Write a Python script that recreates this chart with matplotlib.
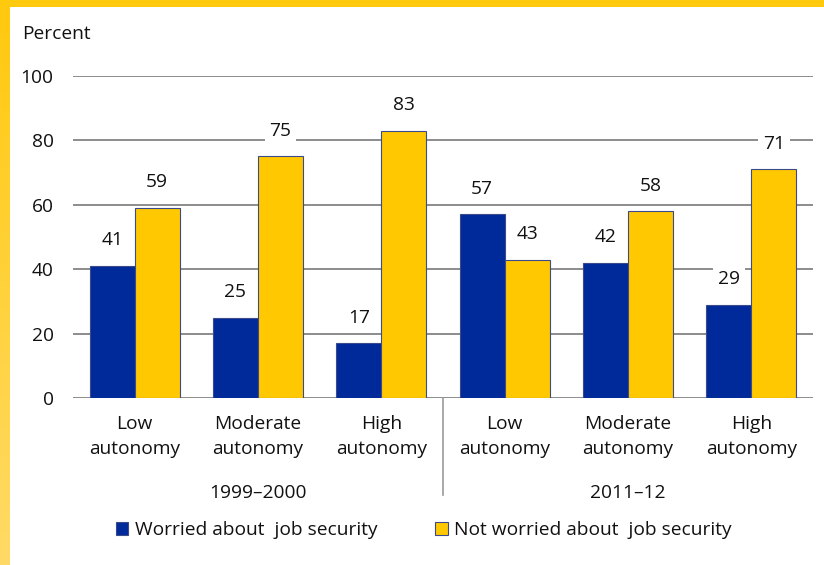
import matplotlib
matplotlib.use("Agg")
import matplotlib.pyplot as plt
import numpy as np
from matplotlib.patches import Rectangle
from matplotlib.colors import LinearSegmentedColormap

plt.rcParams['font.family'] = ['Open Sans', 'DejaVu Sans']

categories = ["Low\nautonomy", "Moderate\nautonomy", "High\nautonomy",
              "Low\nautonomy", "Moderate\nautonomy", "High\nautonomy"]
periods = ["1999–2000", "2011–12"]
worried = [41, 25, 17, 57, 42, 29]
not_worried = [59, 75, 83, 43, 58, 71]
series_names = ["Worried about  job security", "Not worried about  job security"]
yticks = [0, 20, 40, 60, 80, 100]

BLUE = "#00299A"
YELLOW = "#FFC800"
EDGE = "#3a4a8a"
GRID = "#8c8c8c"
FS = 13.8

W, H = 824, 565
fig = plt.figure(figsize=(W/100, H/100), dpi=100)

# border decoration
bg = fig.add_axes([0, 0, 1, 1], zorder=-10)
bg.axis('off')
grad = np.linspace(0, 1, 256).reshape(-1, 1)
cmap = LinearSegmentedColormap.from_list("g", ["#FFC90E", "#FFDA66"])
bg.imshow(grad, extent=[0, 10, H, 0], cmap=cmap, aspect='auto')
bg.add_patch(Rectangle((0, 0), W, 7, color="#FFC90E", lw=0))
bg.set_xlim(0, W); bg.set_ylim(H, 0)

ax = fig.add_axes([73/W, 1-398/H, (813-73)/W, (398-76)/H])
x = np.arange(len(categories))
bw = 0.365
b1 = ax.bar(x - bw/2, worried, bw, color=BLUE, edgecolor=EDGE, lw=0.8, zorder=3, label=series_names[0])
b2 = ax.bar(x + bw/2, not_worried, bw, color=YELLOW, edgecolor=EDGE, lw=0.8, zorder=3, label=series_names[1])

for bars, vals in ((b1, worried), (b2, not_worried)):
    for r, v in zip(bars, vals):
        ax.annotate(str(v), (r.get_x() + r.get_width()/2, v), xytext=(0, 12),
                    textcoords='offset points', ha='center', va='bottom', fontsize=FS,
                    color='#111111', zorder=5,
                    bbox=dict(boxstyle='square,pad=0.25', fc='white', ec='none'))

ax.set_xlim(-0.5, len(categories) - 0.5)
ax.set_ylim(0, 100)
ax.set_yticks(yticks)
ax.yaxis.grid(True, color=GRID, lw=1.4, zorder=0)
ax.set_axisbelow(True)
for s in ax.spines.values():
    s.set_visible(False)
ax.tick_params(axis='y', length=0, pad=14, labelsize=FS, labelcolor='#111111')
ax.set_xticks(x)
ax.set_xticklabels(categories, fontsize=FS, color='#111111', linespacing=1.45)
ax.tick_params(axis='x', length=0, pad=12.5)

# period separator and labels
ax.plot([2.5, 2.5], [0, -30], color='#999999', lw=1.2, clip_on=False)
for i, p in enumerate(periods):
    ax.text(1 + 3*i, -29.5, p, ha='center', va='center', fontsize=FS, color='#111111')

fig.text(22/W, 1-34/H, "Percent", ha='left', va='center', fontsize=FS, color='#111111')

leg = fig.legend(handles=[b1, b2], labels=series_names, loc='center', ncol=2,
                 bbox_to_anchor=(424/W, 1-530/H), frameon=False, fontsize=FS,
                 handlelength=0.65, handleheight=0.65, handletextpad=0.35, columnspacing=3.0)
for t in leg.get_texts():
    t.set_color('#111111')

fig.savefig("out.png", dpi=100)
